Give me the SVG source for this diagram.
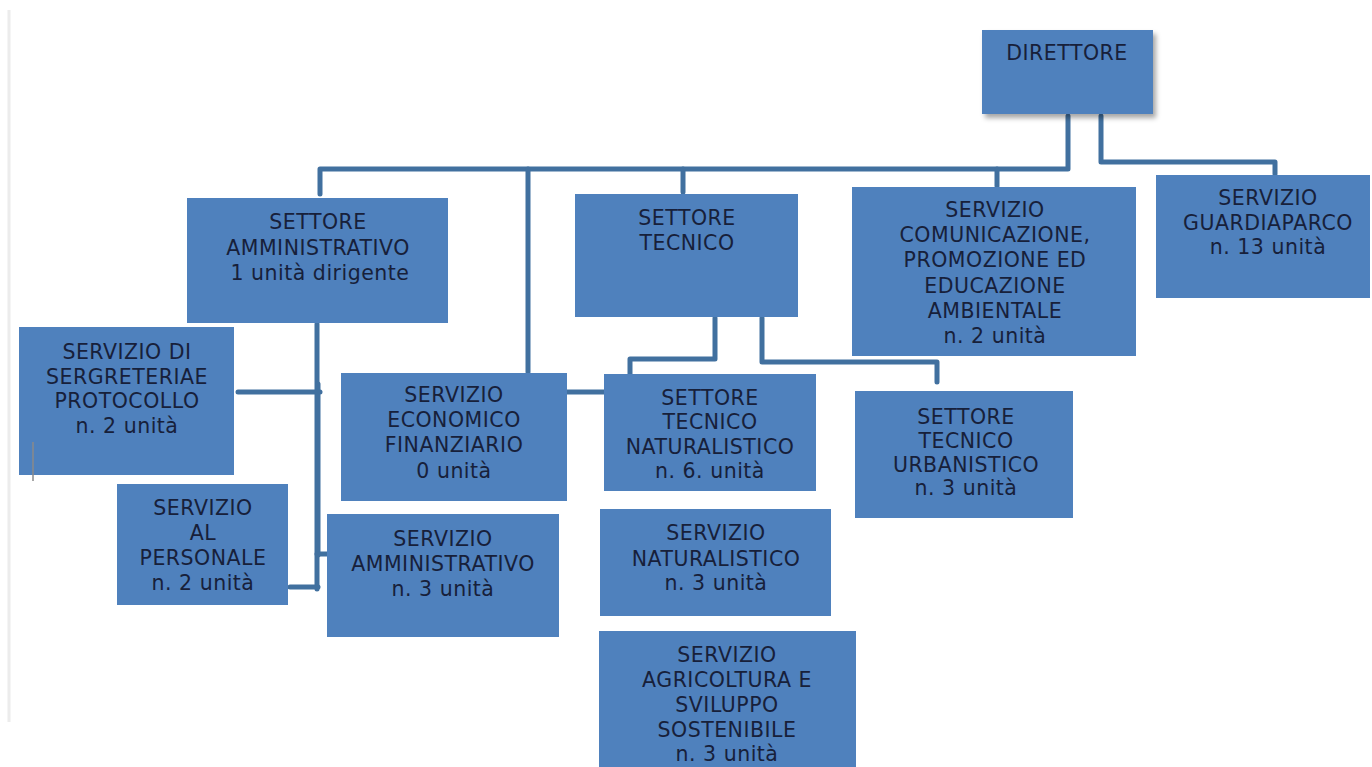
<svg xmlns="http://www.w3.org/2000/svg" width="1372" height="767" viewBox="0 0 1372 767">
<defs>
<filter id="sh" x="-10%" y="-10%" width="125%" height="130%">
<feGaussianBlur in="SourceAlpha" stdDeviation="2.5"/>
<feOffset dx="3" dy="4" result="b"/>
<feFlood flood-color="#000" flood-opacity="0.35"/>
<feComposite in2="b" operator="in"/>
<feMerge><feMergeNode/><feMergeNode in="SourceGraphic"/></feMerge>
</filter>
</defs>
<style>
.box{fill:#4f81bd;}
.t{font-family:"DejaVu Sans",Verdana,sans-serif;font-size:20.5px;letter-spacing:0.5px;fill:#17203a;text-anchor:middle;}
.c{fill:none;stroke:#41709f;stroke-width:5;stroke-linejoin:round;stroke-linecap:round;}
</style>
<rect width="1372" height="767" fill="#ffffff"/>
<line x1="9" y1="10" x2="9" y2="722" stroke="#ececec" stroke-width="3"/>

<g id="connectors">
<path class="c" d="M1068,116 V169 H320 V194"/>
<path class="c" d="M528,169 V372"/>
<path class="c" d="M683,169 V192"/>
<path class="c" d="M997,169 V186"/>
<path class="c" d="M1101,116 V162 H1275 V174"/>
<path class="c" d="M317,324 V589"/>
<path class="c" d="M318,384 V555"/>
<path class="c" d="M238,392 H320"/>
<path class="c" d="M317,554 H328"/>
<path class="c" d="M290,587 H318"/>
<path class="c" d="M567,392 H604"/>
<path class="c" d="M715,318 V359 H630 V374"/>
<path class="c" d="M762,318 V362 H937 V382"/>
</g>

<g id="n-direttore"><rect class="box" x="982" y="30" width="171" height="84" filter="url(#sh)"/><text class="t" x="1067" y="60">DIRETTORE</text></g>

<g id="n-settore-amm"><rect class="box" x="187" y="198" width="261" height="125"/>
<text class="t" x="318" y="229">SETTORE</text><text class="t" x="318" y="255">AMMINISTRATIVO</text><text class="t" x="320" y="280">1 unità dirigente</text></g>

<g id="n-segreteria"><rect class="box" x="19" y="327" width="215" height="148"/>
<text class="t" x="127" y="359">SERVIZIO DI</text><text class="t" x="127" y="384">SERGRETERIAE</text><text class="t" x="127" y="408">PROTOCOLLO</text><text class="t" x="127" y="433">n. 2 unità</text></g>
<line x1="33" y1="442" x2="33" y2="481" stroke="#8a8a8a" stroke-width="1.5"/>

<g id="n-personale"><rect class="box" x="117" y="484" width="171" height="121"/>
<text class="t" x="203" y="515">SERVIZIO</text><text class="t" x="203" y="540">AL</text><text class="t" x="203" y="565">PERSONALE</text><text class="t" x="203" y="590">n. 2 unità</text></g>

<g id="n-economico"><rect class="box" x="341" y="373" width="226" height="128"/>
<text class="t" x="454" y="402">SERVIZIO</text><text class="t" x="454" y="427">ECONOMICO</text><text class="t" x="454" y="452">FINANZIARIO</text><text class="t" x="454" y="478">0 unità</text></g>

<g id="n-serv-amm"><rect class="box" x="327" y="514" width="232" height="123"/>
<text class="t" x="443" y="546">SERVIZIO</text><text class="t" x="443" y="571">AMMINISTRATIVO</text><text class="t" x="443" y="596">n. 3 unità</text></g>

<g id="n-settore-tecnico"><rect class="box" x="575" y="194" width="223" height="123"/>
<text class="t" x="687" y="225">SETTORE</text><text class="t" x="687" y="250">TECNICO</text></g>

<g id="n-tec-nat"><rect class="box" x="604" y="374" width="212" height="117"/>
<text class="t" x="710" y="405">SETTORE</text><text class="t" x="710" y="429">TECNICO</text><text class="t" x="710" y="454">NATURALISTICO</text><text class="t" x="710" y="478">n. 6. unità</text></g>

<g id="n-serv-nat"><rect class="box" x="600" y="509" width="231" height="107"/>
<text class="t" x="716" y="540">SERVIZIO</text><text class="t" x="716" y="566">NATURALISTICO</text><text class="t" x="716" y="590">n. 3 unità</text></g>

<g id="n-agricoltura"><rect class="box" x="599" y="631" width="257" height="140"/>
<text class="t" x="727" y="662">SERVIZIO</text><text class="t" x="727" y="687">AGRICOLTURA E</text><text class="t" x="727" y="712">SVILUPPO</text><text class="t" x="727" y="737">SOSTENIBILE</text><text class="t" x="727" y="761">n. 3 unità</text></g>

<g id="n-comunicazione"><rect class="box" x="852" y="187" width="284" height="169"/>
<text class="t" x="995" y="217">SERVIZIO</text><text class="t" x="995" y="242">COMUNICAZIONE,</text><text class="t" x="995" y="267">PROMOZIONE ED</text><text class="t" x="995" y="293">EDUCAZIONE</text><text class="t" x="995" y="318">AMBIENTALE</text><text class="t" x="995" y="343">n. 2 unità</text></g>

<g id="n-guardiaparco"><rect class="box" x="1156" y="175" width="214" height="123"/>
<text class="t" x="1268" y="205">SERVIZIO</text><text class="t" x="1268" y="230">GUARDIAPARCO</text><text class="t" x="1268" y="254">n. 13 unità</text></g>

<g id="n-urbanistico"><rect class="box" x="855" y="391" width="218" height="127"/>
<text class="t" x="966" y="424">SETTORE</text><text class="t" x="966" y="448">TECNICO</text><text class="t" x="966" y="472">URBANISTICO</text><text class="t" x="966" y="495">n. 3 unità</text></g>
</svg>
